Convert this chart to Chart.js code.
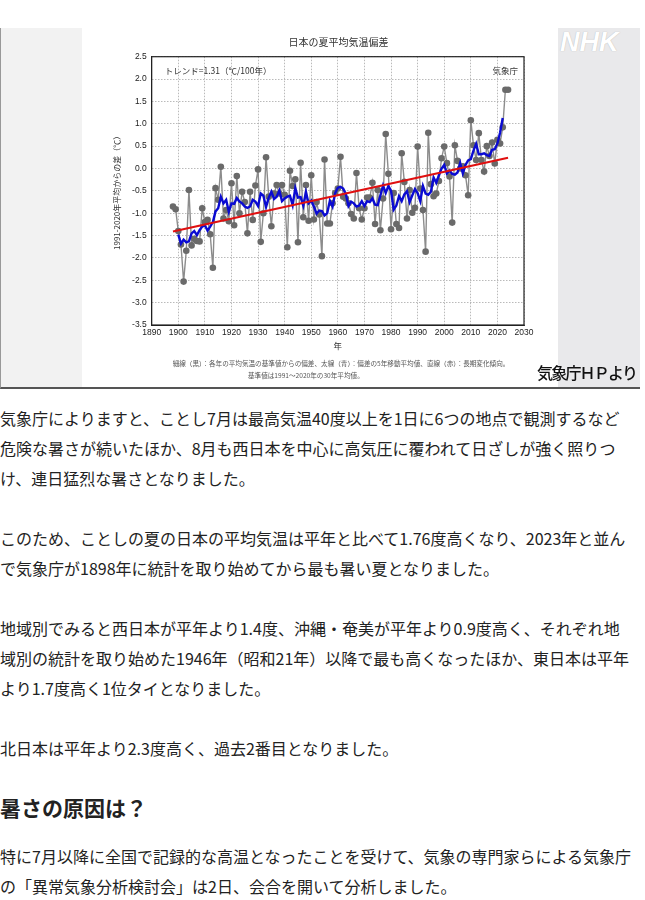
<!DOCTYPE html>
<html lang="ja">
<head>
<meta charset="utf-8">
<script src="https://cdn.jsdelivr.net/npm/chart.js@4.4.1/dist/chart.umd.min.js"></script>
<style>
  html, body { margin: 0; padding: 0; background: #fff; }
  body { width: 645px; height: 900px; position: relative; overflow: hidden;
         font-family: "Noto Sans CJK JP", "Noto Sans", sans-serif; color: #222; }
  #banner { position: absolute; left: 0; top: 28px; width: 640px; height: 361px;
            background: #f2f2f2; border-left: 1px solid #999; border-bottom: 2px solid #555; box-sizing: border-box; }
  #chartBox { position: absolute; left: 82px; top: 28px; width: 476px; height: 359px; background: #fff; }
  #side { position: absolute; left: 558px; top: 28px; width: 82px; height: 359px; background: #e9e9eb; }
  #logo { position: absolute; left: 560px; top: 27px; font: italic bold 27px "Liberation Sans", sans-serif;
          color: #fff; letter-spacing: 0px; text-shadow: 0 0 1px #aaa; }
  #credit { position: absolute; left: 537px; top: 360px; font-size: 16px; font-weight: 500; letter-spacing: -1.8px;
            color: #111; white-space: nowrap; }
  #article { position: absolute; left: 0; top: 403px; width: 645px; }
  #article p { margin: 0 0 30px; font-size: 16px; line-height: 30px; white-space: nowrap; }
  #article h2 { margin: -1px 0 19px; font-size: 21px; line-height: 30px; font-weight: bold; }
</style>
</head>
<body>
<div id="banner"></div>
<div id="side"></div>
<div id="logo">NHK</div>
<div id="chartBox"><canvas id="tempChart" width="476" height="359"></canvas></div>
<div id="credit">気象庁ＨＰより</div>

<div id="article">
  <p>気象庁によりますと、ことし7月は最高気温40度以上を1日に6つの地点で観測するなど<br>危険な暑さが続いたほか、8月も西日本を中心に高気圧に覆われて日ざしが強く照りつ<br>け、連日猛烈な暑さとなりました。</p>
  <p>このため、ことしの夏の日本の平均気温は平年と比べて1.76度高くなり、2023年と並ん<br>で気象庁が1898年に統計を取り始めてから最も暑い夏となりました。</p>
  <p>地域別でみると西日本が平年より1.4度、沖縄・奄美が平年より0.9度高く、それぞれ地<br>域別の統計を取り始めた1946年（昭和21年）以降で最も高くなったほか、東日本は平年<br>より1.7度高く1位タイとなりました。</p>
  <p>北日本は平年より2.3度高く、過去2番目となりました。</p>
  <h2>暑さの原因は？</h2>
  <p>特に7月以降に全国で記録的な高温となったことを受けて、気象の専門家らによる気象庁<br>の「異常気象分析検討会」は2日、会合を開いて分析しました。</p>
</div>

<script>
// 日本の夏平均気温偏差 (1991-2020年平均からの差, ℃)
const years = [
    1898, 1899, 1900, 1901, 1902, 1903, 1904, 1905, 1906, 1907,
    1908, 1909, 1910, 1911, 1912, 1913, 1914, 1915, 1916, 1917,
    1918, 1919, 1920, 1921, 1922, 1923, 1924, 1925, 1926, 1927,
    1928, 1929, 1930, 1931, 1932, 1933, 1934, 1935, 1936, 1937,
    1938, 1939, 1940, 1941, 1942, 1943, 1944, 1945, 1946, 1947,
    1948, 1949, 1950, 1951, 1952, 1953, 1954, 1955, 1956, 1957,
    1958, 1959, 1960, 1961, 1962, 1963, 1964, 1965, 1966, 1967,
    1968, 1969, 1970, 1971, 1972, 1973, 1974, 1975, 1976, 1977,
    1978, 1979, 1980, 1981, 1982, 1983, 1984, 1985, 1986, 1987,
    1988, 1989, 1990, 1991, 1992, 1993, 1994, 1995, 1996, 1997,
    1998, 1999, 2000, 2001, 2002, 2003, 2004, 2005, 2006, 2007,
    2008, 2009, 2010, 2011, 2012, 2013, 2014, 2015, 2016, 2017,
    2018, 2019, 2020, 2021, 2022, 2023, 2024,
];

// 細線（黒）: 各年の偏差
const anomalies = [
    -0.85, -0.91, -1.40, -1.70, -2.53, -1.84, -0.48, -1.72, -1.57, -1.62,
    -1.63, -0.89, -1.20, -1.15, -1.47, -2.22, -0.44, -0.70, 0.04, -1.12,
    -0.93, -1.18, -0.33, -1.27, -0.17, -1.00, -0.52, -0.75, -1.45, -0.52,
    -1.15, -0.38, -0.02, -1.64, -1.00, 0.25, -0.63, -1.29, -0.56, -0.37,
    -0.56, -0.37, -0.59, -1.76, -0.05, -0.39, -0.24, -1.65, 0.13, -1.09,
    -0.37, -1.17, -0.15, -1.14, -0.75, -1.03, -1.96, 0.20, -1.23, -1.23,
    -0.78, -0.55, -0.45, 0.26, -0.63, -0.67, -0.78, -1.02, -1.12, -0.10,
    -0.89, -1.14, -0.89, -0.65, -0.65, -0.32, -1.24, -0.48, -1.38, -0.67,
    0.77, -0.12, -1.36, -0.55, -1.24, -1.33, 0.34, -0.30, -1.12, -0.48,
    -0.99, -0.88, 0.49, -0.45, -0.93, -1.86, 0.80, -0.35, -0.62, -0.56,
    -0.28, 0.23, 0.49, 0.12, -0.18, -1.21, 0.52, 0.17, 0.00, 0.05,
    -0.15, -0.60, 1.08, 0.52, 0.19, 0.79, 0.19, -0.07, 0.50, 0.28,
    0.58, 0.11, 0.64, 0.56, 0.92, 1.76, 1.76,
];

// 太線（青）: 偏差の5年移動平均値
const movingAvg = [
    null, null, -1.48, -1.68, -1.59, -1.65, -1.63, -1.45, -1.40, -1.49,
    -1.38, -1.30, -1.27, -1.39, -1.30, -1.20, -0.96, -0.89, -0.63, -0.78,
    -0.70, -0.97, -0.78, -0.79, -0.66, -0.74, -0.78, -0.85, -0.88, -0.85,
    -0.70, -0.74, -0.84, -0.56, -0.61, -0.86, -0.65, -0.52, -0.68, -0.63,
    -0.49, -0.73, -0.67, -0.63, -0.61, -0.82, -0.44, -0.65, -0.64, -0.83,
    -0.53, -0.78, -0.72, -0.85, -1.01, -0.94, -0.95, -1.05, -1.00, -0.72,
    -0.85, -0.55, -0.43, -0.41, -0.45, -0.57, -0.84, -0.74, -0.78, -0.85,
    -0.83, -0.73, -0.84, -0.73, -0.75, -0.67, -0.81, -0.82, -0.60, -0.38,
    -0.55, -0.39, -0.50, -0.92, -0.83, -0.62, -0.73, -0.58, -0.51, -0.75,
    -0.60, -0.46, -0.55, -0.73, -0.39, -0.56, -0.59, -0.52, -0.20, -0.32,
    -0.15, 0.00, 0.08, -0.11, -0.05, -0.12, -0.14, -0.09, 0.12, -0.11,
    0.08, 0.18, 0.21, 0.40, 0.55, 0.32, 0.32, 0.34, 0.30, 0.28,
    0.42, 0.43, 0.56, 0.80, 1.13, null, null,
];

// 直線（赤）: 長期変化傾向
const trendYears = [1898, 2024];
const trendValues = [-1.41, 0.24];

const xTicks = [1890, 1900, 1910, 1920, 1930, 1940, 1950, 1960, 1970, 1980, 1990, 2000, 2010, 2020, 2030];
const yTicks = [2.5, 2.0, 1.5, 1.0, 0.5, 0.0, -0.5, -1.0, -1.5, -2.0, -2.5, -3.0, -3.5];

const chartTitle = "日本の夏平均気温偏差";
const trendLabel = "トレンド=1.31（℃/100年）";
const sourceLabel = "気象庁";
const captionLines = [
    "細線（黒）：各年の平均気温の基準値からの偏差、太線（青）：偏差の5年移動平均値、直線（赤）：長期変化傾向。",
    "基準値は1991～2020年の30年平均値。",
];

const jpFont = '"Noto Sans CJK JP", sans-serif';
const numFont = '"Liberation Sans", Arial, sans-serif';

// frame around plot + text labels inside the picture
const annotatePlugin = {
    id: "annotate",
    afterDraw(chart) {
        const { ctx, chartArea: a } = chart;
        ctx.save();
        ctx.strokeStyle = "#222";
        ctx.lineWidth = 1.2;
        ctx.strokeRect(a.left, a.top, a.right - a.left, a.bottom - a.top);

        ctx.fillStyle = "#333";
        ctx.textBaseline = "middle";
        ctx.font = "10px " + jpFont;
        ctx.textAlign = "center";
        ctx.fillText(chartTitle, 256.5, 14.5);

        ctx.font = "8.5px " + jpFont;
        ctx.textAlign = "left";
        ctx.fillText(trendLabel, a.left + 13, a.top + 14);
        ctx.textAlign = "right";
        ctx.fillText(sourceLabel, a.right - 6, a.top + 14);

        ctx.fillStyle = "#555";
        ctx.font = "6.6px " + jpFont;
        ctx.textAlign = "center";
        ctx.fillText(captionLines[0], 259, 335);
        ctx.textAlign = "left";
        ctx.fillText(captionLines[1], 166, 347);
        ctx.restore();
    },
};

document.addEventListener("DOMContentLoaded", function () {
    const ctx = document.getElementById("tempChart").getContext("2d");

    const gridStyle = {
        color: "#a8a8a8",
        lineWidth: 0.8,
        drawTicks: false,
    };

    const chart = new Chart(ctx, {
        type: "line",
        data: {
            datasets: [
                {
                    label: "長期変化傾向",
                    data: trendYears.map((y, i) => ({ x: y, y: trendValues[i] })),
                    borderColor: "#e01010",
                    borderWidth: 2.2,
                    pointRadius: 0,
                },
                {
                    label: "5年移動平均",
                    data: years.map((y, i) => ({ x: y, y: movingAvg[i] })),
                    borderColor: "#0a0ad2",
                    borderWidth: 2.4,
                    pointRadius: 0,
                    spanGaps: false,
                },
                {
                    label: "偏差",
                    data: years.map((y, i) => ({ x: y, y: anomalies[i] })),
                    borderColor: "#8c8c8c",
                    borderWidth: 1.4,
                    pointRadius: 3.3,
                    pointBackgroundColor: "#6a6a6a",
                    pointBorderWidth: 0,
                },
            ],
        },
        options: {
            responsive: false,
            animation: false,
            layout: { padding: { top: 28.7, right: 34, left: 0, bottom: 0 } },
            plugins: {
                legend: { display: false },
                tooltip: { enabled: false },
            },
            scales: {
                x: {
                    type: "linear",
                    min: 1890,
                    max: 2030,
                    afterBuildTicks: (s) => { s.ticks = xTicks.map((v) => ({ value: v })); },
                    afterFit: (s) => { s.height = 62; },
                    grid: { ...gridStyle },
                    border: { display: true, color: "#222", dash: [1.5, 1.5] },
                    ticks: {
                        autoSkip: false,
                        maxRotation: 0,
                        padding: 3,
                        color: "#222",
                        font: { family: numFont, size: 8.5 },
                        callback: (v) => String(v),
                    },
                    title: {
                        display: true,
                        text: "年",
                        color: "#333",
                        font: { family: jpFont, size: 8.5 },
                        padding: { top: 0, bottom: 36 },
                    },
                },
                y: {
                    min: -3.5,
                    max: 2.5,
                    afterBuildTicks: (s) => { s.ticks = yTicks.map((v) => ({ value: v })); },
                    afterFit: (s) => { s.width = 69.7; },
                    grid: { ...gridStyle },
                    border: { display: true, color: "#222", dash: [1.5, 1.5] },
                    ticks: {
                        padding: 5,
                        color: "#222",
                        font: { family: numFont, size: 8.5 },
                        callback: (v) => v.toFixed(1),
                    },
                    title: {
                        display: true,
                        text: "1991-2020年平均からの差（℃）",
                        color: "#333",
                        font: { family: jpFont, size: 8 },
                        padding: { top: 30, bottom: 0 },
                    },
                },
            },
        },
        plugins: [annotatePlugin],
    });
});
</script>
</body>
</html>
